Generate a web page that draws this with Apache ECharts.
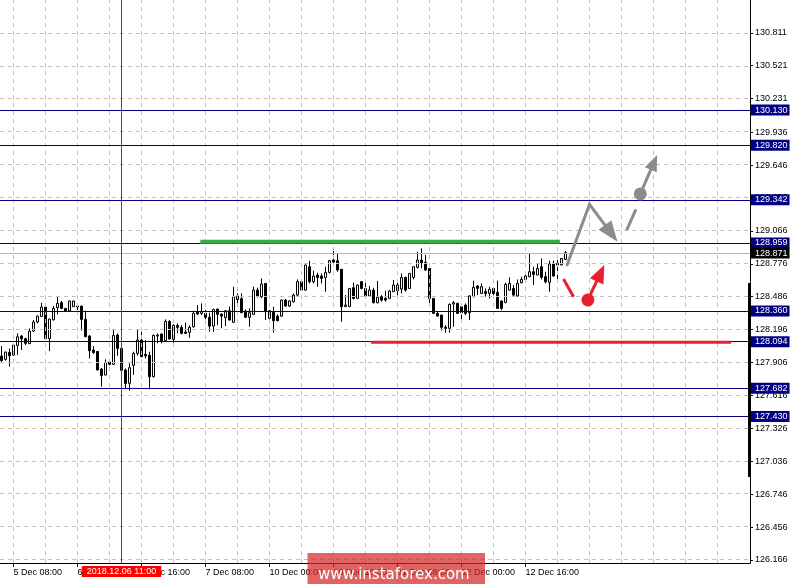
<!DOCTYPE html>
<html><head><meta charset="utf-8">
<script src="https://cdn.jsdelivr.net/npm/echarts@6/dist/echarts.min.js"></script>
<style>html,body{margin:0;padding:0;background:#fff;overflow:hidden}#c{width:792px;height:584px}</style>
</head><body><div id="c"></div>
<script>
// ---------- DATA (hourly candles, index 0 = 5 Dec 05:00) ----------
const candleOpen = [
127.963,127.934,127.995,127.972,128.057,128.139,128.116,128.072,128.183,128.263,
128.312,128.395,128.116,128.283,128.389,128.433,128.383,128.362,128.398,128.403,
128.403,128.286,128.139,128.016,128.004,127.848,127.796,127.910,127.890,128.148,
128.030,127.840,127.722,127.881,127.986,128.104,127.978,127.969,127.781,128.139,
128.157,128.098,128.268,128.110,128.233,128.216,128.174,128.171,128.221,128.356,
128.339,128.339,128.304,128.227,128.377,128.333,128.301,128.362,128.260,128.492,
128.468,128.359,128.304,128.330,128.544,128.486,128.603,128.295,128.354,128.315,
128.315,128.456,128.403,128.442,128.500,128.618,128.544,128.750,128.618,128.677,
128.668,128.653,128.700,128.809,128.803,128.727,128.398,128.398,128.565,128.471,
128.618,128.559,128.492,128.544,128.433,128.486,128.471,128.471,128.530,128.539,
128.553,128.656,128.559,128.656,128.744,128.809,128.788,128.735,128.471,128.339,
128.324,128.216,128.207,128.421,128.427,128.398,128.412,128.345,128.486,128.580,
128.515,128.530,128.515,128.559,128.524,128.448,128.436,128.544,128.559,128.492,
128.609,128.638,128.662,128.706,128.677,128.750,128.662,128.612,128.779,128.779,
128.765,128.815];
const candleClose = [
127.922,127.998,127.966,128.060,128.133,128.116,128.075,128.183,128.263,128.315,
128.395,128.116,128.289,128.383,128.427,128.383,128.359,128.448,128.448,128.395,
128.286,128.133,128.010,127.995,127.840,127.790,127.907,127.890,128.145,128.030,
127.837,127.722,127.860,127.986,128.104,127.957,127.966,127.781,128.145,128.148,
128.095,128.268,128.113,128.233,128.216,128.163,128.163,128.216,128.339,128.333,
128.354,128.304,128.227,128.374,128.330,128.315,128.362,128.280,128.486,128.462,
128.345,128.304,128.345,128.544,128.486,128.597,128.354,128.362,128.274,128.274,
128.456,128.403,128.448,128.500,128.618,128.544,128.765,128.618,128.668,128.653,
128.647,128.700,128.803,128.791,128.721,128.398,128.412,128.559,128.471,128.589,
128.559,128.492,128.544,128.433,128.480,128.456,128.456,128.536,128.589,128.589,
128.656,128.544,128.691,128.750,128.809,128.785,128.721,128.471,128.339,128.315,
128.216,128.207,128.418,128.433,128.339,128.345,128.339,128.492,128.568,128.559,
128.574,128.515,128.550,128.515,128.383,128.383,128.594,128.603,128.500,128.603,
128.638,128.668,128.706,128.682,128.735,128.656,128.618,128.774,128.668,128.765,
128.823,128.873];
const candleLow = [
127.913,127.922,127.869,127.963,127.972,128.016,128.060,128.072,128.174,128.251,
128.307,128.113,128.007,128.274,128.330,128.377,128.356,128.359,128.395,128.368,
128.186,128.130,127.942,127.981,127.837,127.693,127.793,127.881,127.887,127.966,
127.834,127.678,127.658,127.796,127.966,127.954,127.942,127.669,127.775,128.075,
128.075,128.095,128.110,128.080,128.163,128.154,128.160,128.124,128.213,128.324,
128.324,128.251,128.177,128.177,128.236,128.207,128.227,128.277,128.257,128.412,
128.342,128.301,128.221,128.324,128.480,128.471,128.280,128.280,128.169,128.270,
128.310,128.398,128.395,128.433,128.486,128.539,128.539,128.603,128.603,128.574,
128.603,128.530,128.691,128.779,128.706,128.265,128.395,128.395,128.462,128.468,
128.550,128.480,128.486,128.427,128.427,128.442,128.442,128.465,128.527,128.500,
128.515,128.530,128.553,128.638,128.735,128.735,128.712,128.427,128.333,128.310,
128.186,128.169,128.169,128.221,128.333,128.265,128.324,128.280,128.480,128.500,
128.509,128.486,128.471,128.471,128.380,128.368,128.427,128.541,128.492,128.486,
128.603,128.633,128.659,128.589,128.674,128.638,128.603,128.530,128.662,128.638,
128.762,128.809];
const candleHigh = [
128.051,128.001,128.030,128.069,128.163,128.148,128.124,128.207,128.280,128.318,
128.433,128.427,128.292,128.403,128.486,128.448,128.386,128.451,128.451,128.427,
128.406,128.362,128.148,128.051,128.007,127.857,127.934,127.928,128.198,128.163,
128.033,127.854,127.898,128.001,128.201,128.177,128.104,128.001,128.154,128.163,
128.163,128.286,128.280,128.242,128.251,128.236,128.257,128.233,128.362,128.412,
128.427,128.368,128.345,128.380,128.380,128.336,128.368,128.398,128.574,128.515,
128.515,128.374,128.383,128.574,128.565,128.647,128.606,128.368,128.398,128.330,
128.462,128.465,128.456,128.515,128.638,128.633,128.768,128.803,128.715,128.697,
128.691,128.750,128.809,128.897,128.862,128.730,128.500,128.562,128.609,128.592,
128.624,128.609,128.580,128.565,128.624,128.500,128.539,128.544,128.633,128.633,
128.691,128.662,128.691,128.753,128.882,128.912,128.853,128.738,128.474,128.354,
128.327,128.236,128.427,128.448,128.433,128.412,128.427,128.500,128.627,128.589,
128.603,128.559,128.574,128.562,128.627,128.451,128.609,128.656,128.589,128.638,
128.662,128.706,128.862,128.750,128.779,128.823,128.706,128.803,128.803,128.809,
128.826,128.888];

// x-axis tick labels (candle index -> text)
const xTickIndex = [3, 19, 35, 51, 67, 83, 99, 115, 131];
const xTickText = ['5 Dec 08:00','6 Dec 00:00','6 Dec 16:00','7 Dec 08:00','10 Dec 00:00',
                   '10 Dec 16:00','11 Dec 08:00','12 Dec 00:00','12 Dec 16:00'];
// y-axis price labels
const yTickValues = [126.166,126.456,126.746,127.036,127.326,127.616,127.906,128.196,128.486,
                     128.776,129.066,129.356,129.646,129.936,130.231,130.521,130.811];
// horizontal level lines
const levelValues = [130.130, 129.820, 129.342, 128.959, 128.360, 128.094, 127.682, 127.430];
const currentPrice = 128.871;
// vertical crosshair
const crossIndex = 30;
const crossText = '2018.12.06 11:00';
// drawn levels [fromIndex, toIndex, price]
const greenLevel = [49.7, 139.6, 128.970];
const redLevel = [92.4, 182.4, 128.085];
// forecast sketches [index, price]
const grayPath = [[141.3, 128.756], [147.0, 129.300], [154.0, 128.970]];
const grayDash = [[156.3, 129.073], [158.6, 129.256]];
const grayDot = [159.7, 129.391];
const grayArrow = [[159.7, 129.391], [163.9, 129.734]];
const redDash = [[140.5, 128.642], [143.0, 128.486]];
const redDot = [146.6, 128.457];
const redArrow = [[146.6, 128.457], [150.7, 128.765]];
// dark band on the price scale [top, bottom]
const axisBar = [128.606, 126.897];

// ---------- CHART ----------
const FONT = 'Liberation Sans';
const candles = candleOpen.map((o, i) => [i, o, candleClose[i], candleLow[i], candleHigh[i]]);
const xGrid = [];
for (let k = 3; k <= 179; k += 8) xGrid.push(k);

const chart = echarts.init(document.getElementById('c'));
const gridStyle = { color: '#c0c0c0', width: 1, type: [4, 4] };

function renderSketch(params, api) {
  if (params.dataIndex !== 0) return;
  const c = p => api.coord(p);
  const ch = [];
  const line = (pts, color, w) => ch.push({ type: 'polyline', shape: { points: pts },
      style: { stroke: color, lineWidth: w, fill: null, lineJoin: 'miter' } });
  const arrow = (pts, color, w, L, W) => {
    const px = pts.map(c);
    const tip = px[px.length - 1], prev = px[px.length - 2];
    let dx = tip[0] - prev[0], dy = tip[1] - prev[1];
    const len = Math.hypot(dx, dy); dx /= len; dy /= len;
    const base = [tip[0] - dx * (L - 2), tip[1] - dy * (L - 2)];
    const b2 = [tip[0] - dx * L, tip[1] - dy * L];
    line(px.slice(0, -1).concat([base]), color, w);
    ch.push({ type: 'polygon', shape: { points: [tip, [b2[0] - dy * W, b2[1] + dx * W], [b2[0] + dy * W, b2[1] - dx * W]] },
      style: { fill: color } });
  };
  const dot = (p, color, r) => { const q = c(p); ch.push({ type: 'circle', shape: { cx: q[0], cy: q[1], r: r }, style: { fill: color } }); };
  line([c([greenLevel[0], greenLevel[2]]), c([greenLevel[1], greenLevel[2]])], '#3aaa47', 4);
  line([c([redLevel[0], redLevel[2]]), c([redLevel[1], redLevel[2]])], '#e8202e', 3);
  const gray = '#8c8c8c', red = '#e8202e';
  arrow(grayPath, gray, 3, 21, 8);
  line(grayDash.map(c), gray, 3);
  dot(grayDot, gray, 6.5);
  arrow(grayArrow, gray, 3, 16, 6.5);
  line(redDash.map(c), red, 3);
  dot(redDot, red, 6.5);
  arrow(redArrow, red, 3, 18, 7.5);
  return { type: 'group', children: ch };
}

const option = {
  animation: false,
  backgroundColor: '#ffffff',
  grid: { left: 0, top: 0, width: 750, height: 563, containLabel: false },
  xAxis: {
    type: 'value', min: -0.375, max: 187.125,
    axisLine: { show: true, onZero: false, lineStyle: { color: '#000', width: 1 } },
    axisTick: { show: true, length: 4, lineStyle: { color: '#000' }, customValues: xTickIndex },
    axisLabel: { customValues: xTickIndex, margin: 5, align: 'left', color: '#000',
      fontFamily: FONT, fontSize: 9,
      formatter: v => xTickText[xTickIndex.indexOf(Math.round(v))] || '' },
    splitLine: { show: false }
  },
  yAxis: {
    type: 'value', position: 'right', min: 126.1396, max: 131.1, scale: true,
    axisLine: { show: true, onZero: false, lineStyle: { color: '#000', width: 1 } },
    axisTick: { show: true, length: 3, lineStyle: { color: '#000' }, customValues: yTickValues },
    axisLabel: { customValues: yTickValues, margin: 5, color: '#000', fontFamily: FONT, fontSize: 9,
      formatter: v => v.toFixed(3) },
    splitLine: { show: false }
  },
  series: [
    { type: 'line', data: [], z: 1, silent: true,
      markLine: { silent: true, symbol: 'none', animation: false,
        label: { show: false }, lineStyle: gridStyle,
        data: yTickValues.map(v => ({ yAxis: v })).concat(xGrid.map(k => ({ xAxis: k }))) } },
    { type: 'line', data: [], z: 2, silent: true,
      markLine: { silent: true, symbol: 'none', animation: false,
        data: levelValues.map(v => ({ yAxis: v,
            lineStyle: { color: '#000080', width: 1, type: 'solid' },
            label: { show: true, position: 'end', distance: 1, formatter: v.toFixed(3),
              backgroundColor: '#000080', color: '#fff', padding: [1, 2, 1, 4],
              fontFamily: FONT, fontSize: 9, lineHeight: 9 } }))
          .concat([{ yAxis: currentPrice,
            lineStyle: { color: '#b4b4b4', width: 1, type: 'solid' },
            label: { show: true, position: 'end', distance: 1, formatter: currentPrice.toFixed(3),
              backgroundColor: '#000', color: '#fff', padding: [1, 2, 1, 4],
              fontFamily: FONT, fontSize: 9, lineHeight: 9 } }]) } },
    { type: 'candlestick', z: 3, barWidth: 2,
      encode: { x: 0, y: [1, 2, 3, 4] },
      data: candles,
      itemStyle: { color: '#ffffff', color0: '#000000', borderColor: '#000000', borderColor0: '#000000', borderWidth: 1 } },
    { type: 'line', data: [], z: 4, silent: true,
      markLine: { silent: true, symbol: 'none', animation: false,
        data: [{ xAxis: crossIndex,
          lineStyle: { color: '#ff0000', width: 1, type: 'solid' },
          label: { show: true, position: 'start', distance: 3, formatter: crossText,
            backgroundColor: '#ff0000', color: '#fff', padding: [1, 5, 1, 5],
            fontFamily: FONT, fontSize: 9, lineHeight: 9 } }] } },
    { type: 'custom', z: 5, silent: true, clip: false,
      data: [[0, 128]], encode: { x: 0, y: 1 },
      renderItem: renderSketch }
  ]
};
chart.setOption(option);

const yb1 = chart.convertToPixel({ yAxisIndex: 0 }, axisBar[0]);
const yb2 = chart.convertToPixel({ yAxisIndex: 0 }, axisBar[1]);
const xr = chart.convertToPixel({ xAxisIndex: 0 }, 187.125);
chart.setOption({
  graphic: [
    { type: 'rect', z: 50, shape: { x: xr - 2, y: yb1, width: 3, height: yb2 - yb1 }, style: { fill: '#000' } },
    { type: 'rect', z: 100, shape: { x: 307.5, y: 553, width: 177.5, height: 31 }, style: { fill: 'rgba(214,40,40,0.72)' } },
    { type: 'text', z: 101, x: 318, y: 575, style: { text: 'www.instaforex.com', fill: '#ffffff',
        font: '15px "DejaVu Sans"', verticalAlign: 'middle', align: 'left' } }
  ]
});
</script>
</body></html>
